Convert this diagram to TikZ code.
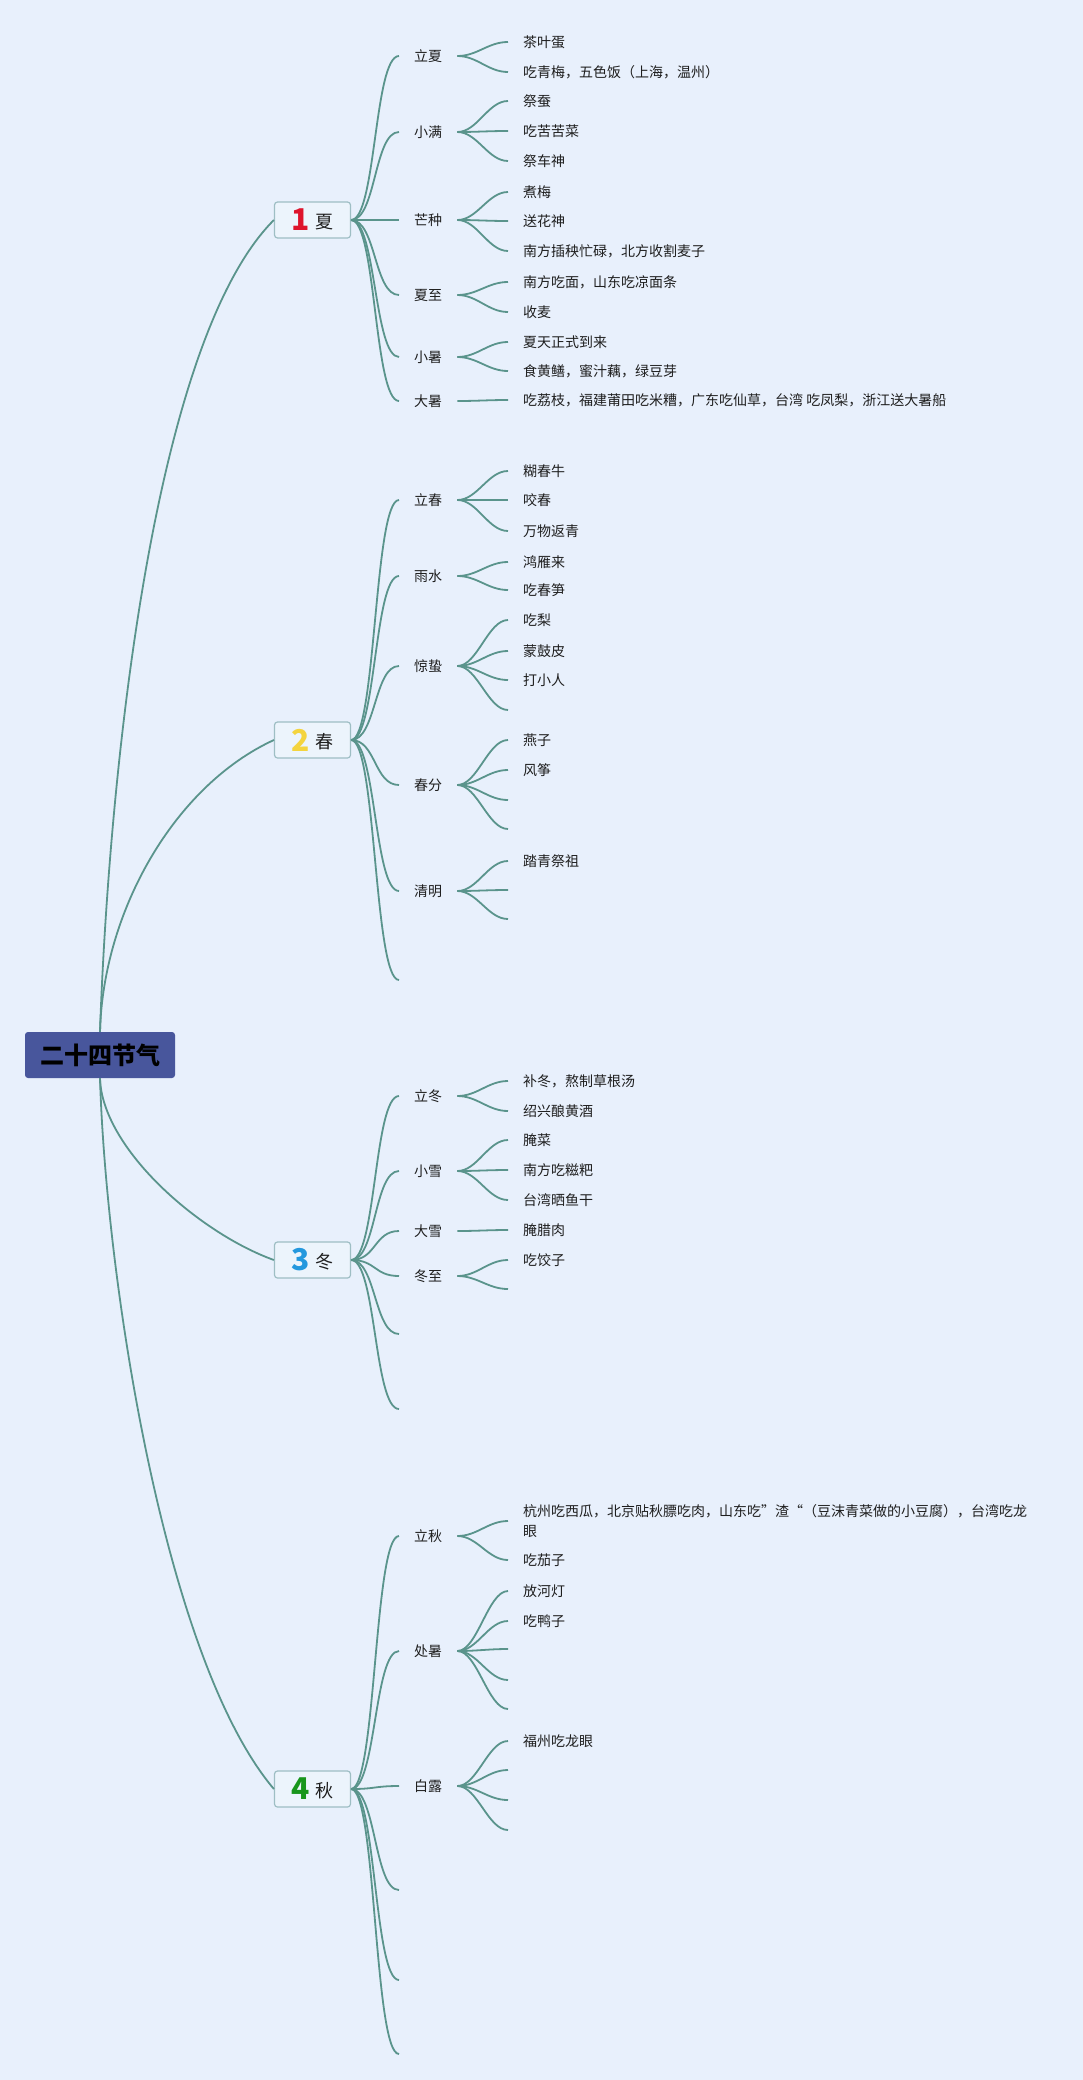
\documentclass[tikz,border=0pt]{standalone}
\usepackage{fontspec}
\setmainfont{Noto Sans CJK SC}
\definecolor{bgc}{RGB}{232,240,252}
\definecolor{lc}{RGB}{90,148,140}
\definecolor{rootc}{RGB}{72,86,156}
\definecolor{boxd}{RGB}{158,190,196}
\definecolor{boxf}{RGB}{236,244,252}
\definecolor{txt}{RGB}{30,30,30}
\definecolor{nred}{RGB}{222,20,44}
\definecolor{nyel}{RGB}{244,212,62}
\definecolor{nblu}{RGB}{36,152,222}
\definecolor{ngrn}{RGB}{24,150,28}
\newcommand\lnkA[2]{\draw[conn] (#1) .. controls +(25,0) and +(-25,0) .. (#2);}
\newcommand\lnkB[2]{\draw[conn] (#1) .. controls +(20,0) and +(-20,0) .. (#2);}
\newcommand\numlab[3]{{\fontsize{30}{30}\selectfont\bfseries\color{#1}#2}\hspace{5pt}\raisebox{2.5pt}{\fontsize{18}{18}\selectfont #3}}
\begin{document}
\begin{tikzpicture}[x=1pt,y=-1pt,
  conn/.style={draw=lc, line width=1.8pt},
  rootn/.style={fill=rootc, rounded corners=3pt, minimum width=150pt, minimum height=46pt, inner sep=0pt, font=\fontsize{24}{24}\selectfont\bfseries, text=black},
  boxn/.style={draw=boxd, line width=1.2pt, fill=boxf, rounded corners=3pt, minimum width=76pt, minimum height=36pt, inner sep=0pt, text=txt},
  lvtwo/.style={anchor=west, inner xsep=15pt, inner ysep=2pt, font=\fontsize{14}{16}\selectfont, text=txt},
  lvthree/.style={anchor=west, inner xsep=15pt, inner ysep=2pt, font=\fontsize{14}{20}\selectfont, text=txt, align=left}]
\fill[bgc] (0,0) rectangle (1083,2080);
\useasboundingbox (0,0) rectangle (1083,2080);

% root and main boxes
\node[rootn] (root) at (100,1055) {二十四节气};
\node[boxn] (xia) at (312.5,220) {\numlab{nred}{1}{夏}};
\node[boxn] (chun) at (312.5,740) {\numlab{nyel}{2}{春}};
\node[boxn] (dong) at (312.5,1260) {\numlab{nblu}{3}{冬}};
\node[boxn] (qiu) at (312.5,1789) {\numlab{ngrn}{4}{秋}};

\draw[conn] (root.north) .. controls +(8,-233) and +(-125,125) .. (xia.west);
\draw[conn] (root.north) .. controls +(3,-120) and +(-100,46) .. (chun.west);
\draw[conn] (root.south) .. controls +(2,70) and +(-75,-27) .. (dong.west);
\draw[conn] (root.south) .. controls +(6,200) and +(-110,-130) .. (qiu.west);

% ---------- 夏 ----------
\node[lvtwo] (xa) at (399,56) {立夏};
\node[lvtwo] (xb) at (399,132) {小满};
\node[lvtwo] (xc) at (399,220) {芒种};
\node[lvtwo] (xd) at (399,295) {夏至};
\node[lvtwo] (xe) at (399,357) {小暑};
\node[lvtwo] (xf) at (399,401) {大暑};
\foreach \n in {xa,xb,xc,xd,xe,xf} {\lnkA{xia.east}{\n.west}}

\node[lvthree] (xa1) at (508,42) {茶叶蛋};
\node[lvthree] (xa2) at (508,72) {吃青梅，五色饭（上海，温州）};
\node[lvthree] (xb1) at (508,101) {祭蚕};
\node[lvthree] (xb2) at (508,131) {吃苦苦菜};
\node[lvthree] (xb3) at (508,161) {祭车神};
\node[lvthree] (xc1) at (508,192) {煮梅};
\node[lvthree] (xc2) at (508,221) {送花神};
\node[lvthree] (xc3) at (508,251) {南方插秧忙碌，北方收割麦子};
\node[lvthree] (xd1) at (508,282) {南方吃面，山东吃凉面条};
\node[lvthree] (xd2) at (508,312) {收麦};
\node[lvthree] (xe1) at (508,342) {夏天正式到来};
\node[lvthree] (xe2) at (508,371) {食黄鳝，蜜汁藕，绿豆芽};
\node[lvthree] (xf1) at (508,400) {吃荔枝，福建莆田吃米糟，广东吃仙草，台湾 吃凤梨，浙江送大暑船};
\lnkB{xa.east}{xa1.west}\lnkB{xa.east}{xa2.west}
\lnkB{xb.east}{xb1.west}\lnkB{xb.east}{xb2.west}\lnkB{xb.east}{xb3.west}
\lnkB{xc.east}{xc1.west}\lnkB{xc.east}{xc2.west}\lnkB{xc.east}{xc3.west}
\lnkB{xd.east}{xd1.west}\lnkB{xd.east}{xd2.west}
\lnkB{xe.east}{xe1.west}\lnkB{xe.east}{xe2.west}
\lnkB{xf.east}{xf1.west}

% ---------- 春 ----------
\node[lvtwo] (ca) at (399,500) {立春};
\node[lvtwo] (cb) at (399,576) {雨水};
\node[lvtwo] (cc) at (399,666) {惊蛰};
\node[lvtwo] (cd) at (399,785) {春分};
\node[lvtwo] (ce) at (399,891) {清明};
\coordinate (cf) at (399,980);
\foreach \n in {ca.west,cb.west,cc.west,cd.west,ce.west,cf} {\lnkA{chun.east}{\n}}

\node[lvthree] (ca1) at (508,471) {糊春牛};
\node[lvthree] (ca2) at (508,500) {咬春};
\node[lvthree] (ca3) at (508,531) {万物返青};
\node[lvthree] (cb1) at (508,562) {鸿雁来};
\node[lvthree] (cb2) at (508,590) {吃春笋};
\node[lvthree] (cc1) at (508,620) {吃梨};
\node[lvthree] (cc2) at (508,651) {蒙鼓皮};
\node[lvthree] (cc3) at (508,680) {打小人};
\coordinate (cc4) at (508,710);
\node[lvthree] (cd1) at (508,740) {燕子};
\node[lvthree] (cd2) at (508,770) {风筝};
\coordinate (cd3) at (508,800);
\coordinate (cd4) at (508,829);
\node[lvthree] (ce1) at (508,861) {踏青祭祖};
\coordinate (ce2) at (508,890);
\coordinate (ce3) at (508,919);
\lnkB{ca.east}{ca1.west}\lnkB{ca.east}{ca2.west}\lnkB{ca.east}{ca3.west}
\lnkB{cb.east}{cb1.west}\lnkB{cb.east}{cb2.west}
\lnkB{cc.east}{cc1.west}\lnkB{cc.east}{cc2.west}\lnkB{cc.east}{cc3.west}\lnkB{cc.east}{cc4}
\lnkB{cd.east}{cd1.west}\lnkB{cd.east}{cd2.west}\lnkB{cd.east}{cd3}\lnkB{cd.east}{cd4}
\lnkB{ce.east}{ce1.west}\lnkB{ce.east}{ce2}\lnkB{ce.east}{ce3}

% ---------- 冬 ----------
\node[lvtwo] (da) at (399,1096) {立冬};
\node[lvtwo] (db) at (399,1171) {小雪};
\node[lvtwo] (dc) at (399,1231) {大雪};
\node[lvtwo] (dd) at (399,1276) {冬至};
\coordinate (de) at (399,1334);
\coordinate (df) at (399,1409);
\foreach \n in {da.west,db.west,dc.west,dd.west,de,df} {\lnkA{dong.east}{\n}}

\node[lvthree] (da1) at (508,1081) {补冬，熬制草根汤};
\node[lvthree] (da2) at (508,1111) {绍兴酿黄酒};
\node[lvthree] (db1) at (508,1140) {腌菜};
\node[lvthree] (db2) at (508,1170) {南方吃糍粑};
\node[lvthree] (db3) at (508,1200) {台湾晒鱼干};
\node[lvthree] (dc1) at (508,1230) {腌腊肉};
\node[lvthree] (dd1) at (508,1260) {吃饺子};
\coordinate (dd2) at (508,1289);
\lnkB{da.east}{da1.west}\lnkB{da.east}{da2.west}
\lnkB{db.east}{db1.west}\lnkB{db.east}{db2.west}\lnkB{db.east}{db3.west}
\lnkB{dc.east}{dc1.west}
\lnkB{dd.east}{dd1.west}\lnkB{dd.east}{dd2}

% ---------- 秋 ----------
\node[lvtwo] (qa) at (399,1536) {立秋};
\node[lvtwo] (qb) at (399,1651) {处暑};
\node[lvtwo] (qc) at (399,1786) {白露};
\coordinate (qd) at (399,1890);
\coordinate (qe) at (399,1980);
\coordinate (qf) at (399,2054);
\foreach \n in {qa.west,qb.west,qc.west,qd,qe,qf} {\lnkA{qiu.east}{\n}}

\node[lvthree] (qa1) at (508,1521) {杭州吃西瓜，北京贴秋膘吃肉，山东吃"渣“（豆沫青菜做的小豆腐），台湾吃龙\\眼};
\node[lvthree] (qa2) at (508,1560) {吃茄子};
\node[lvthree] (qb1) at (508,1591) {放河灯};
\node[lvthree] (qb2) at (508,1621) {吃鸭子};
\coordinate (qb3) at (508,1649);
\coordinate (qb4) at (508,1680);
\coordinate (qb5) at (508,1709);
\node[lvthree] (qc1) at (508,1741) {福州吃龙眼};
\coordinate (qc2) at (508,1770);
\coordinate (qc3) at (508,1800);
\coordinate (qc4) at (508,1830);
\lnkB{qa.east}{qa1.west}\lnkB{qa.east}{qa2.west}
\lnkB{qb.east}{qb1.west}\lnkB{qb.east}{qb2.west}\lnkB{qb.east}{qb3}\lnkB{qb.east}{qb4}\lnkB{qb.east}{qb5}
\lnkB{qc.east}{qc1.west}\lnkB{qc.east}{qc2}\lnkB{qc.east}{qc3}\lnkB{qc.east}{qc4}
\end{tikzpicture}
\end{document}
